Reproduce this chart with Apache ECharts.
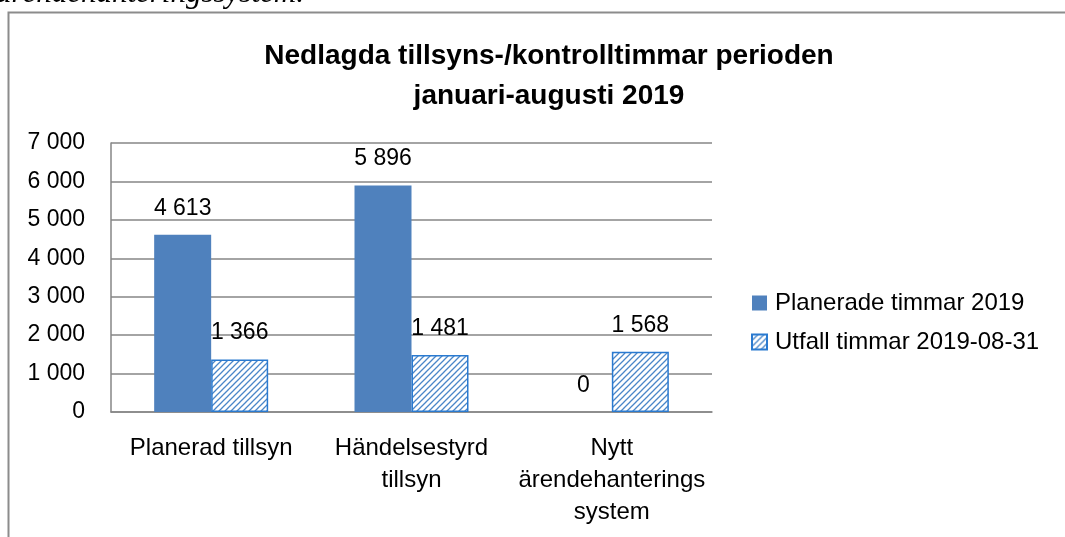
<!DOCTYPE html>
<html>
<head>
<meta charset="utf-8">
<script src="https://cdn.jsdelivr.net/npm/echarts@6/dist/echarts.min.js"></script>
<style>
  html, body { margin: 0; padding: 0; background: #fff; }
  #chart { width: 1065px; height: 537px; }
</style>
</head>
<body>
<div id="chart"></div>
<script>
const categories = ["Planerad tillsyn", "Händelsestyrd\ntillsyn", "Nytt\närendehanterings\nsystem"];
const planned = [4613, 5896, 0];
const outcome = [1366, 1481, 1568];
const yTicks = [0, 1000, 2000, 3000, 4000, 5000, 6000, 7000];

const chart = echarts.init(document.getElementById("chart"));
const font = "'Liberation Sans', Arial, sans-serif";

function spaced(v) {
  return String(v).replace(/\B(?=(\d{3})+(?!\d))/g, " ");
}

// diagonal hatch for the outcome bars
function hatch() {
  const c = document.createElement("canvas");
  c.width = 6;
  c.height = 6;
  const ctx = c.getContext("2d");
  ctx.fillStyle = "#fff";
  ctx.fillRect(0, 0, 6, 6);
  ctx.strokeStyle = "#4a86c8";
  ctx.lineWidth = 1.3;
  ctx.beginPath();
  ctx.moveTo(-1, 7);
  ctx.lineTo(7, -1);
  ctx.moveTo(-4, 4);
  ctx.lineTo(4, -4);
  ctx.moveTo(2, 10);
  ctx.lineTo(10, 2);
  ctx.stroke();
  return c;
}

const label = {
  show: true,
  position: "top",
  distance: 15,
  color: "#000",
  fontFamily: font,
  fontSize: 23,
  formatter: (p) => spaced(p.value),
};

chart.setOption({
  animation: false,
  title: {
    text: "Nedlagda tillsyns-/kontrolltimmar perioden\njanuari-augusti 2019",
    left: 544,
    top: 31,
    textAlign: "center",
    textStyle: { fontFamily: font, fontSize: 28, fontWeight: "bold", color: "#000", lineHeight: 40 },
  },
  legend: {
    orient: "vertical",
    left: 746,
    top: 286,
    itemWidth: 15,
    itemHeight: 15,
    itemGap: 15,
    icon: "rect",
    textStyle: { fontFamily: font, fontSize: 24, color: "#000", padding: [0, 0, 0, 3] },
    data: ["Planerade timmar 2019", "Utfall timmar 2019-08-31"],
  },
  grid: { left: 111, right: 353, top: 143, bottom: 125 },
  xAxis: {
    type: "category",
    data: categories,
    axisLine: { lineStyle: { color: "#868686", width: 1.5 } },
    axisTick: { show: false },
    axisLabel: { fontFamily: font, fontSize: 24, color: "#000", margin: 20, lineHeight: 32, interval: 0 },
  },
  yAxis: {
    type: "value",
    min: yTicks[0],
    max: yTicks[yTicks.length - 1],
    interval: 1000,
    axisLine: { show: true, lineStyle: { color: "#868686", width: 1.5 } },
    axisTick: { show: false },
    splitLine: { lineStyle: { color: "#868686", width: 1.5 } },
    axisLabel: { fontFamily: font, fontSize: 23, color: "#000", margin: 26, formatter: (v) => spaced(v) },
  },
  series: [
    {
      name: "Planerade timmar 2019",
      type: "bar",
      data: planned,
      barWidth: 57,
      barGap: "0%",
      itemStyle: { color: "#4f81bd" },
      label: label,
    },
    {
      name: "Utfall timmar 2019-08-31",
      type: "bar",
      data: outcome,
      barWidth: 57,
      itemStyle: { color: { image: hatch(), repeat: "repeat" }, borderColor: "#2a7ad0", borderWidth: 1.5 },
      label: label,
    },
  ],
  graphic: [
    {
      type: "rect",
      silent: true,
      shape: { x: 8.5, y: 12.5, width: 1200, height: 700 },
      style: { fill: null, stroke: "#8c8c8c", lineWidth: 2 },
    },
    {
      type: "text",
      silent: true,
      left: -4,
      top: -22,
      style: {
        text: "ärendehanteringssystem.",
        font: "italic 31px 'Liberation Serif', 'DejaVu Serif', serif",
        fill: "#000",
      },
    },
  ],
});
</script>
</body>
</html>
